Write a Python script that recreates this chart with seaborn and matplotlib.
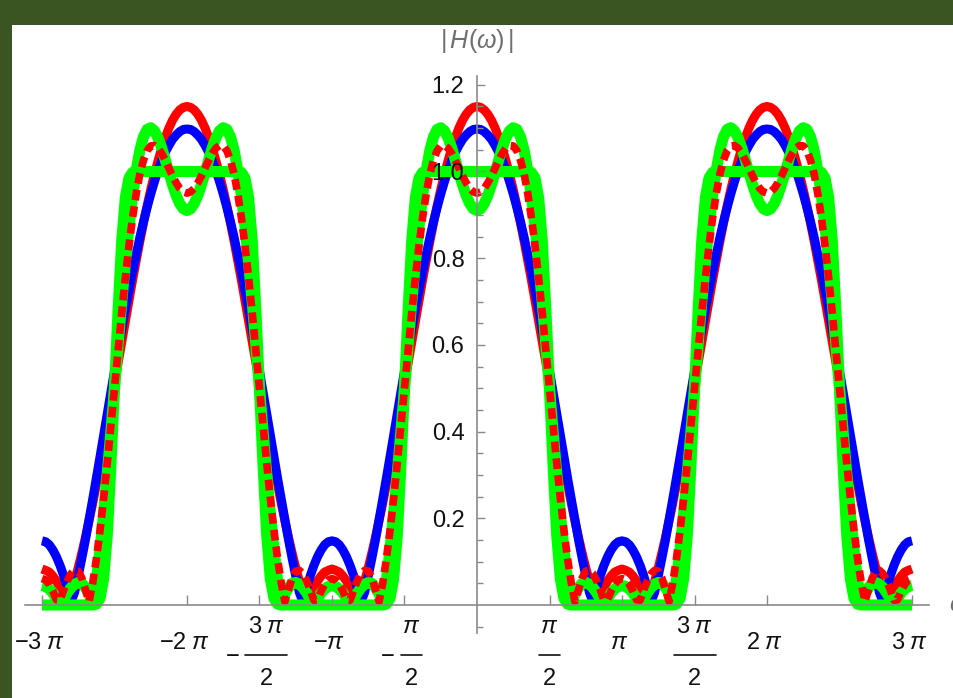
import numpy as np
import matplotlib
matplotlib.use("Agg")
import matplotlib.pyplot as plt
from matplotlib.patches import Rectangle
from matplotlib.lines import Line2D
from matplotlib.transforms import ScaledTranslation
from matplotlib.ticker import FixedLocator
import seaborn as sns

red_solid = [1.150, 1.148, 1.142, 1.132, 1.118, 1.100, 1.078, 1.053, 1.024, 0.993,
             0.958, 0.921, 0.881, 0.839, 0.795, 0.750, 0.703, 0.655, 0.607, 0.559,
             0.510, 0.462, 0.414, 0.368, 0.322, 0.278, 0.235, 0.195, 0.156, 0.120,
             0.086, 0.055, 0.027, 0.002, 0.020, 0.039, 0.055, 0.067, 0.076, 0.080,
             0.083]
blue = [1.098, 1.097, 1.092, 1.084, 1.074, 1.060, 1.044, 1.024, 1.002, 0.976,
        0.948, 0.917, 0.884, 0.848, 0.809, 0.769, 0.726, 0.682, 0.636, 0.589,
        0.540, 0.491, 0.441, 0.391, 0.341, 0.292, 0.244, 0.197, 0.151, 0.108,
        0.067, 0.029, 0.007, 0.039, 0.067, 0.091, 0.111, 0.127, 0.139, 0.146,
        0.148]
red_dashed = [0.950, 0.953, 0.961, 0.974, 0.990, 1.008, 1.026, 1.042, 1.054, 1.060,
              1.059, 1.048, 1.026, 0.994, 0.949, 0.894, 0.829, 0.755, 0.674, 0.588,
              0.500, 0.412, 0.326, 0.245, 0.171, 0.106, 0.051, 0.008, 0.035, 0.062,
              0.078, 0.080, 0.072, 0.056, 0.035, 0.011, 0.012, 0.032, 0.048, 0.058,
              0.061]
green_wavy = [0.910, 0.914, 0.926, 0.945, 0.970, 0.998, 1.027, 1.055, 1.078, 1.094,
              1.101, 1.097, 1.080, 1.049, 1.003, 0.944, 0.873, 0.790, 0.699, 0.601,
              0.500, 0.399, 0.302, 0.210, 0.127, 0.056, 0.003, 0.025, 0.040, 0.050,
              0.052, 0.048, 0.040, 0.028, 0.014, 0.002, 0.015, 0.028, 0.037, 0.043,
              0.045]
green_flat = [1.000, 1.000, 1.000, 1.000, 1.000, 1.000, 1.000, 1.000, 1.000, 1.000,
              1.000, 1.000, 1.000, 1.000, 1.000, 0.998, 0.985, 0.940, 0.840, 0.680,
              0.500, 0.320, 0.160, 0.060, 0.015, 0.002, 0.000, 0.000, 0.000, 0.000,
              0.000, 0.000, 0.000, 0.000, 0.000, 0.000, 0.000, 0.000, 0.000, 0.000,
              0.000]

# x ticks in units of pi; fractions get a numerator over a denominator
xtick_mult = [-3, -2, -1.5, -1, -0.5, 0.5, 1, 1.5, 2, 3]
xtick_num = [r"$-3\;\pi$", r"$-2\;\pi$", r"$3\;\pi$", r"$-\pi$", r"$\pi$",
             r"$\pi$", r"$\pi$", r"$3\;\pi$", r"$2\;\pi$", r"$3\;\pi$"]
xtick_den = [None, None, "2", None, "2", "2", None, "2", None, None]
ytick_vals = [0.2, 0.4, 0.6, 0.8, 1.0, 1.2]
ytick_labels = ["0.2", "0.4", "0.6", "0.8", "1.0", "1.2"]

step = np.pi / 40


def full_range(half):
    # the response is even and 2*pi periodic: mirror, then repeat over -3pi..3pi
    half = np.asarray(half)
    period = np.concatenate([half[::-1], half[1:-1]])
    return np.concatenate([np.tile(period, 3), half[-1:]])


sns.set_style("white")
plt.rcParams["font.family"] = ["Liberation Sans", "DejaVu Sans"]
plt.rcParams["mathtext.fontset"] = "custom"
plt.rcParams["mathtext.rm"] = "Liberation Sans"
plt.rcParams["mathtext.it"] = "Liberation Sans:italic"

fig = plt.figure(figsize=(9.54, 6.98), dpi=100, facecolor="#3a5422")
fig.patches.append(Rectangle((12 / 954, 0), 1, 673 / 698, transform=fig.transFigure,
                             facecolor="white", edgecolor="none", zorder=-10))
ax = fig.add_axes([25 / 954, 65 / 698, 904 / 954, 557 / 698])
ax.set_zorder(5)
ax.patch.set_alpha(0)

curves = [
    (red_solid, "#ff0000", 6.5, "-", 2),
    (blue, "#0000ff", 6.5, "-", 3),
    (green_wavy, "#00ff00", 8, "-", 4),
    (green_flat, "#00ff00", 8, "-", 5),
    (red_dashed, "#ff0000", 5.5, (0, (1.4, 0.8)), 6),
]
for vals, col, lw, ls, z in curves:
    y = full_range(vals)
    w = (np.arange(len(y)) - (len(y) - 1) / 2) * step
    sns.lineplot(x=w, y=y, ax=ax, color=col, lw=lw, linestyle=ls, estimator=None,
                 sort=False, solid_capstyle="butt", dash_capstyle="butt",
                 solid_joinstyle="round", zorder=z)

xlim = (-3.117 * np.pi, 3.117 * np.pi)
ax.set_xlim(*xlim)
ax.set_ylim(-0.0646, 1.2203)
px_per_unit = 904 / (xlim[1] - xlim[0])

axis_col = "#8a8a8a"
txt_col = "#111111"
for s in ["top", "right"]:
    ax.spines[s].set_visible(False)
ax.spines["left"].set_position(("data", 0))
ax.spines["bottom"].set_position(("data", 0))
for s in ["left", "bottom"]:
    ax.spines[s].set_color(axis_col)
    ax.spines[s].set_linewidth(1.2)
    ax.spines[s].set_zorder(10)
ax.xaxis.set_zorder(10)
ax.yaxis.set_zorder(10)

xticks = [m * np.pi for m in xtick_mult]
ax.set_xticks(xticks)
ax.tick_params(axis="x", direction="in", length=7, width=1, color=axis_col,
               bottom=True, labelbottom=False)

for t, num, den in zip(xticks, xtick_num, xtick_den):
    if den is None:
        ax.annotate(num, xy=(t, 0), xytext=(-3, -38), textcoords="offset pixels",
                    ha="center", va="center", fontsize=17, color=txt_col,
                    annotation_clip=False, zorder=11)
        continue
    hw = 21 if "3" in num else 10.5
    fc = t + (7 if t < 0 else 0) / px_per_unit
    ax.annotate(num, xy=(fc, 0), xytext=(0, -22), textcoords="offset pixels",
                ha="center", va="center", fontsize=17, color=txt_col,
                annotation_clip=False, zorder=11)
    ax.annotate(den, xy=(fc, 0), xytext=(0, -74), textcoords="offset pixels",
                ha="center", va="center", fontsize=17, color=txt_col,
                annotation_clip=False, zorder=11)
    bar_tr = ax.transData + ScaledTranslation(0, -50 / 100, fig.dpi_scale_trans)
    ax.add_artist(Line2D([fc - hw / px_per_unit, fc + hw / px_per_unit], [0, 0],
                         transform=bar_tr, color=txt_col, lw=1.2, clip_on=False,
                         zorder=11))
    if t < 0:
        ax.annotate(r"$-$", xy=(fc, 0), xytext=(-hw - 13.5, -50),
                    textcoords="offset pixels", ha="center", va="center",
                    fontsize=17, color=txt_col, annotation_clip=False, zorder=11)

ax.set_yticks(ytick_vals)
ax.set_yticklabels(ytick_labels)
minor = [k * 0.05 for k in range(-1, 25) if k % 4 != 0]
ax.yaxis.set_minor_locator(FixedLocator(minor))
ax.tick_params(axis="y", which="major", direction="in", length=6, width=1,
               color=axis_col, pad=9, labelsize=17, labelcolor=txt_col, left=True)
ax.tick_params(axis="y", which="minor", direction="in", length=4.5, width=1,
               color=axis_col, left=True)
ax.set_xlabel("")
ax.set_ylabel("")

ax.annotate(r"$|\,H(\omega)\,|$", xy=(0, 1), xycoords=("data", "axes fraction"),
            xytext=(0, 35), textcoords="offset pixels", ha="center", va="center",
            fontsize=18, color="#707070", annotation_clip=False)
ax.annotate(r"$\omega$", xy=(1, 0), xycoords=("axes fraction", "data"),
            xytext=(20, 0), textcoords="offset pixels", ha="left", va="center",
            fontsize=17, color="#707070", annotation_clip=False)

fig.savefig("out.png", dpi=100, facecolor=fig.get_facecolor())
